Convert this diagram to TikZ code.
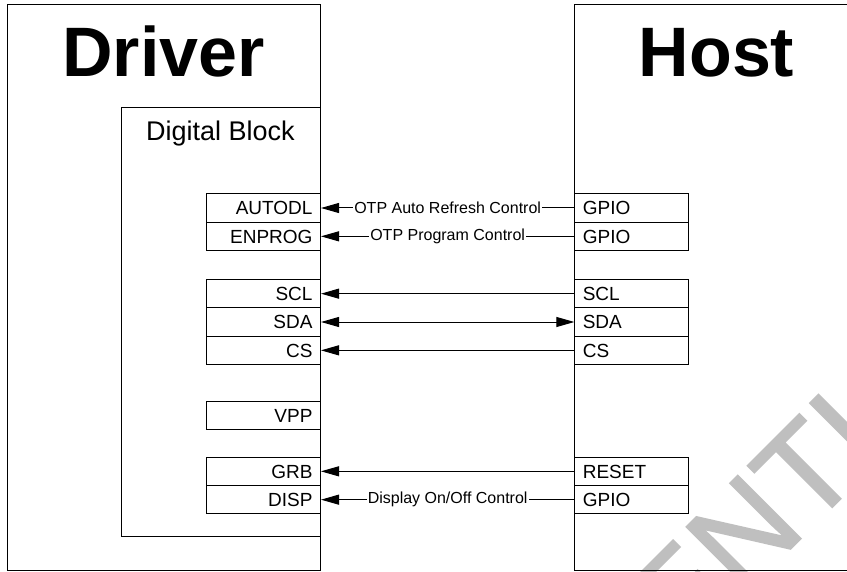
\documentclass[tikz,border=0pt]{standalone}
\usepackage{fontspec}
\setmainfont{Liberation Sans}
\newfontfamily\wmfont[FakeBold=1.2]{Liberation Sans}
\usetikzlibrary{arrows.meta}
\begin{document}
\begin{tikzpicture}[x=1pt,y=-1pt,
  box/.style={draw, line width=0.9pt, inner sep=0pt, anchor=north west},
  pin/.style={draw, line width=1pt, anchor=north west, minimum width=114pt,
    minimum height=28.33pt, inner ysep=0pt, inner xsep=8pt, text width=98pt,
    text height=13.6pt, text depth=0pt, font=\fontsize{19}{19}\selectfont},
  lpin/.style={pin, align=right},
  rpin/.style={pin, align=left},
  tip/.tip={Triangle[length=18pt,width=10pt]},
  conn/.style={line width=1pt, -tip},
  bconn/.style={line width=1pt, tip-tip},
  lbl/.style={fill=white, inner xsep=1pt, inner ysep=1pt, font=\fontsize{16}{16}\selectfont},
  title/.style={anchor=base, inner sep=0pt, font=\bfseries\fontsize{70}{70}\selectfont},
  wm/.style={rotate=45, anchor=base west, inner sep=0pt, text=black!25, font=\wmfont\fontsize{130}{130}\selectfont}
]
\useasboundingbox (0,0) rectangle (847,571);
\fill[white] (0,0) rectangle (847,571);
% watermark letters (rotated, partly outside the page)
\begin{scope}
\clip (0,0) rectangle (847,571);
\node[wm] (wmE) at (680.6,659.0) {E};
\node[wm] (wmN) at (741.9,597.7) {N};
\node[wm] (wmT) at (808.4,531.2) {T};
\node[wm] (wmI) at (864.5,475.0) {I};
\end{scope}
% main boxes
\node[box, minimum width=313pt, minimum height=566pt] (driver) at (7,3.5) {};
\node[box, minimum width=300pt, minimum height=566pt] (host) at (574.3,3.5) {};
\node[box, minimum width=199pt, minimum height=429.3pt] (digital) at (121,106.7) {};
\node[title] (driverT) at (163.5,76.7) {Driver};
\node[title] (hostT) at (716.5,76.7) {Host};
\node[anchor=base, inner sep=0pt, font=\fontsize{27}{27}\selectfont] (digitalT) at (220.5,140) {Digital Block};
% driver pins
\node[lpin] (dAUTODL) at (206,193.33) {AUTODL};
\node[lpin] (dENPROG) at (206,221.67) {ENPROG};
\node[lpin] (dSCL) at (206,279) {SCL};
\node[lpin] (dSDA) at (206,307.33) {SDA};
\node[lpin] (dCS) at (206,335.67) {CS};
\node[lpin] (dVPP) at (206,400.67) {VPP};
\node[lpin] (dGRB) at (206,456.67) {GRB};
\node[lpin] (dDISP) at (206,485) {DISP};
% host pins
\node[rpin] (hGPIOa) at (574.3,193.33) {GPIO};
\node[rpin] (hGPIOb) at (574.3,221.67) {GPIO};
\node[rpin] (hSCL) at (574.3,279) {SCL};
\node[rpin] (hSDA) at (574.3,307.33) {SDA};
\node[rpin] (hCS) at (574.3,335.67) {CS};
\node[rpin] (hRESET) at (574.3,456.67) {RESET};
\node[rpin] (hGPIOc) at (574.3,485) {GPIO};
% connectors
\draw[conn] (hGPIOa.west) -- node[lbl] (l1) {OTP Auto Refresh Control} (dAUTODL.east);
\draw[conn] (hGPIOb.west) -- node[lbl] (l2) {OTP Program Control} (dENPROG.east);
\draw[conn] (hSCL.west) -- (dSCL.east);
\draw[bconn] (hSDA.west) -- (dSDA.east);
\draw[conn] (hCS.west) -- (dCS.east);
\draw[conn] (hRESET.west) -- (dGRB.east);
\draw[conn] (hGPIOc.west) -- node[lbl] (l3) {Display On/Off Control} (dDISP.east);
\end{tikzpicture}
\end{document}
